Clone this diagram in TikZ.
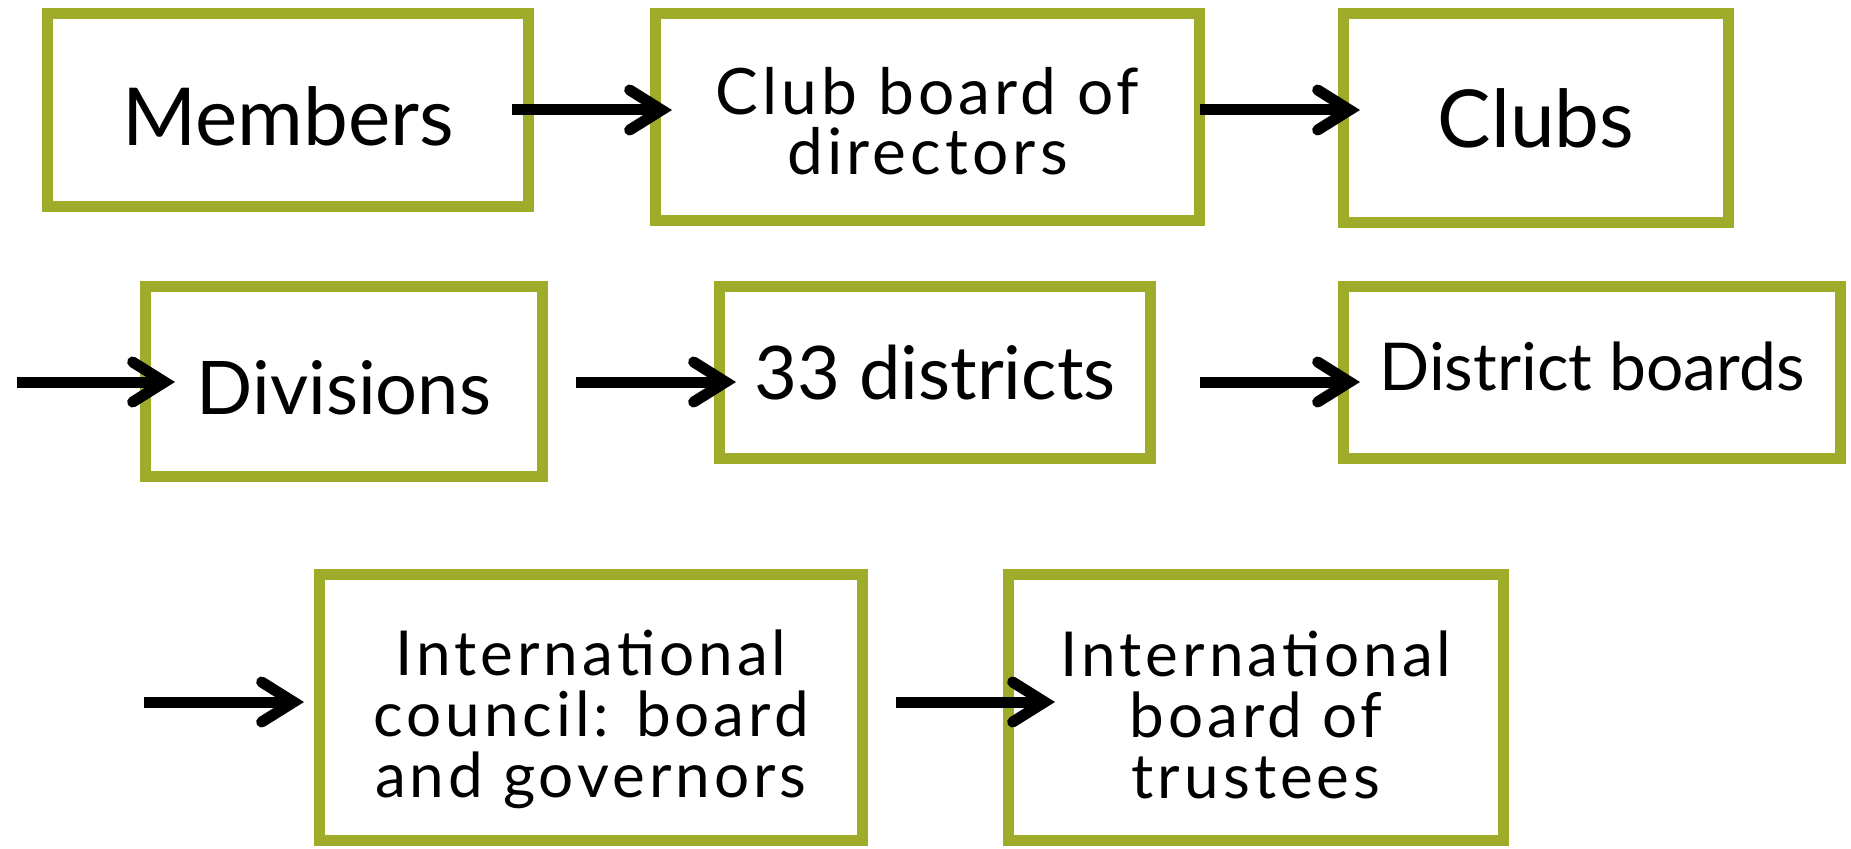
\documentclass[tikz,border=0pt]{standalone}
\usepackage{fontspec}
\setmainfont{Lato}
\newfontfamily\spaced[LetterSpace=6.5]{Lato}
\usetikzlibrary{arrows.meta}
\definecolor{boxgreen}{RGB}{159,172,41}
\begin{document}
\begin{tikzpicture}[x=1pt,y=-1pt,
  box/.style={draw=boxgreen, line width=11pt, fill=white, inner sep=0pt, outer sep=0pt},
  txt/.style={inner sep=0pt, align=center, text=black},
  arr/.style={line width=11pt, -{Straight Barb[length=32pt,width=40pt,line cap=round,line join=miter]}}]
\useasboundingbox (0,0) rectangle (1851,848);
\fill[white] (0,0) rectangle (1851,848);

\node[box, minimum width=481pt, minimum height=193pt] (m) at (288,110) {};
\node[box, minimum width=544pt, minimum height=207pt] (cb) at (927.5,117) {};
\node[box, minimum width=385pt, minimum height=209pt] (cl) at (1536,118) {};
\node[box, minimum width=397pt, minimum height=190pt] (dv) at (344,381.5) {};
\node[box, minimum width=431pt, minimum height=172pt] (d33) at (935,372.5) {};
\node[box, minimum width=497pt, minimum height=172pt] (db) at (1592,372.5) {};
\node[box, minimum width=543pt, minimum height=266pt] (ic) at (591,707.5) {};
\node[box, minimum width=495pt, minimum height=266pt] (ib) at (1256,707.5) {};

\node[txt, font=\fontsize{80}{80}\selectfont] (mt) at ([yshift=-6pt]m.center) {Members};
\node[txt, font=\spaced\fontsize{64}{60}\selectfont] (cbt) at ([yshift=-4pt]cb.center) {Club board of\\directors};
\node[txt, font=\fontsize{80}{80}\selectfont] (clt) at (cl.center) {Clubs};
\node[txt, font=\fontsize{74}{74}\selectfont] (dvt) at ([yshift=-6pt]dv.center) {Divisions};
\node[txt, font=\fontsize{74}{74}\selectfont] (d33t) at (d33.center) {33 districts};
\node[txt, font=\fontsize{66}{66}\selectfont] (dbt) at ([yshift=6pt]db.center) {District boards};
\node[txt, font=\spaced\fontsize{62}{61}\selectfont] (ict) at ([yshift=-12pt]ic.center) {International\\council: board\\and governors};
\node[txt, font=\spaced\fontsize{62}{61}\selectfont] (ibt) at ([yshift=-7pt]ib.center) {International\\board of\\trustees};

\coordinate (s3) at (17,382);
\coordinate (s6) at (144,702);

\draw[arr] ([xshift=-16.5pt]m.east) -- ([xshift=16.5pt,yshift=7pt]cb.west);
\draw[arr] ([yshift=7pt]cb.east) -- ([xshift=16.5pt,yshift=8pt]cl.west);
\draw[arr] (s3) -- ([xshift=29.5pt,yshift=-0.5pt]dv.west);
\draw[arr] ([xshift=33.5pt,yshift=-0.5pt]dv.east) -- ([xshift=16.5pt,yshift=-9.5pt]d33.west);
\draw[arr] ([xshift=49.5pt,yshift=-9.5pt]d33.east) -- ([xshift=16.5pt,yshift=-9.5pt]db.west);
\draw[arr] (s6) -- ([xshift=-15.5pt,yshift=5.5pt]ic.west);
\draw[arr] ([xshift=33.5pt,yshift=5.5pt]ic.east) -- ([xshift=46.5pt,yshift=5.5pt]ib.west);
\end{tikzpicture}
\end{document}
